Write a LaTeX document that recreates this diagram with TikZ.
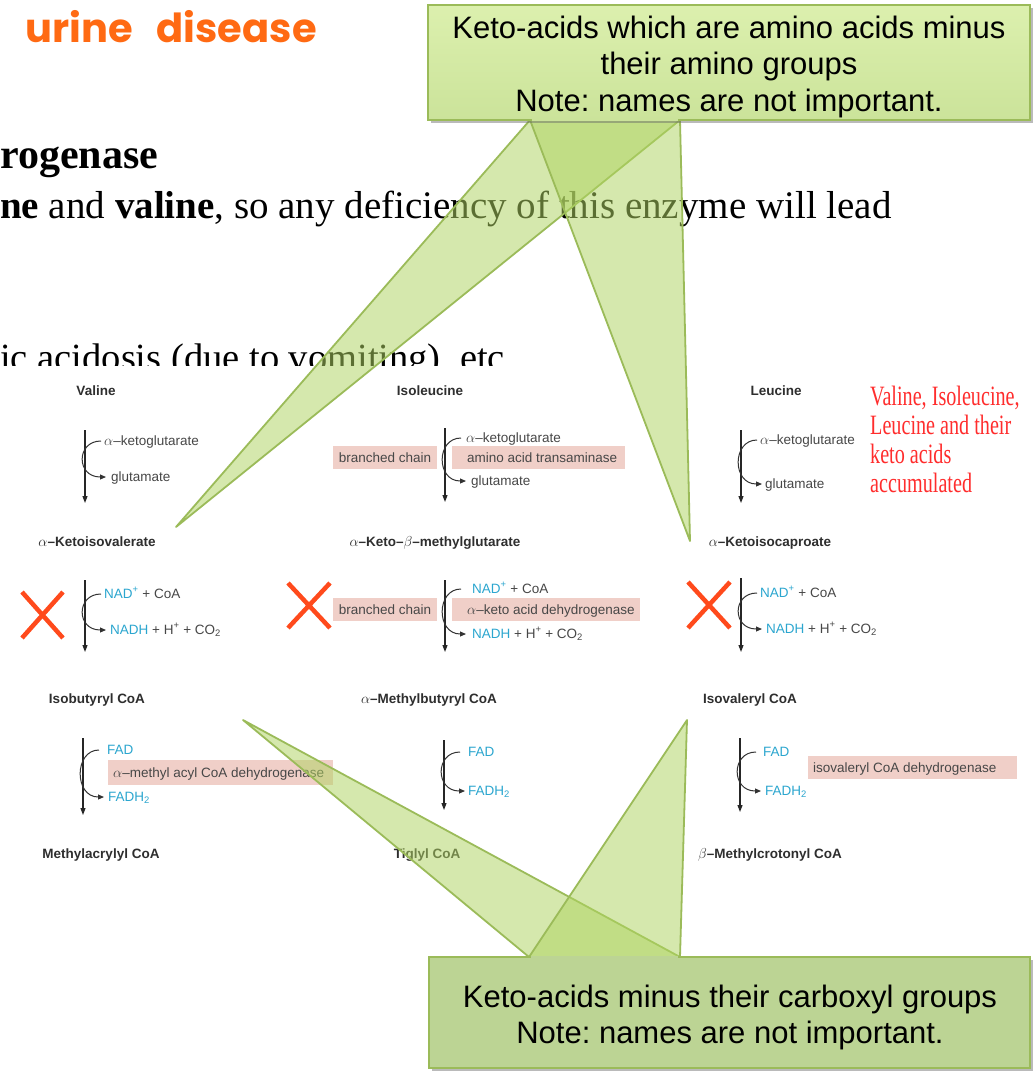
\documentclass[tikz,border=0pt]{standalone}
\usepackage{fontspec}
\usetikzlibrary{arrows.meta,shadows}
\frenchspacing
\newfontfamily\labfam{Liberation Sans}
\newfontfamily\bodyfam{Liberation Serif}
\newfontfamily\redfam[FakeStretch=0.72]{Liberation Serif}
\newfontfamily\titlefam{Poppins}
\definecolor{titleor}{HTML}{FF6A13}
\definecolor{xred}{HTML}{FF4A1C}
\definecolor{redtxt}{HTML}{FF2D2D}
\definecolor{nadblue}{HTML}{2BA6CF}
\definecolor{pinkc}{HTML}{F0CFC8}
\definecolor{gborder}{HTML}{9BBB59}
\definecolor{wedgec}{HTML}{B0D462}
\definecolor{tboxtop}{HTML}{DCF0AE}
\definecolor{tboxbot}{HTML}{CBE39A}
\definecolor{bboxc}{HTML}{BCD494}
\newcommand\rxnpair[6]{%
  \coordinate (#1t) at (#2,#3);
  \coordinate (#1b) at (#2,#4);
  \coordinate (#1s) at ({#2+16},#5);
  \coordinate (#1e) at ({#2+21},#6);
  \draw[rxline] (#1t) -- (#1b);
  \draw[arcline] (#1s) .. controls ({#2-9},#5) and ({#2-9},#6) .. (#1e);
}
\begin{document}
\begin{tikzpicture}[x=1pt,y=-1pt,
  lab/.style={font={\labfam\bfseries\fontsize{13.5}{15}\selectfont}, text=black!82, inner sep=0pt, anchor=base},
  sub/.style={font={\labfam\fontsize{13.5}{15}\selectfont}, text=black!72, inner sep=0pt, anchor=base west},
  pinkbox/.style={fill=pinkc},
  rxline/.style={draw=black!85, line width=1.1pt, -{Triangle[length=7pt,width=5pt]}},
  arcline/.style={draw=black!80, line width=1pt, -{Triangle[length=6pt,width=5pt]}},
  xmark/.style={draw=xred, line width=4.5pt},
  bodytext/.style={font={\bodyfam\fontsize{38.5}{45}\selectfont}, inner sep=0pt, anchor=base west},
  redtext/.style={font={\redfam\fontsize{28}{29}\selectfont}, text=redtxt, inner sep=0pt, anchor=base west},
  wedge/.style={fill=wedgec, fill opacity=0.52, draw=gborder, line width=1.8pt, line join=round},
  callbox/.style={draw=gborder, line width=1.8pt, drop shadow={shadow xshift=2.5pt, shadow yshift=-3pt, opacity=0.45, fill=black!60}},
  boxtext/.style={font={\labfam\fontsize{31}{36}\selectfont}, inner sep=0pt, anchor=base}
]
\useasboundingbox (0,0) rectangle (1034,1071);
\fill[white] (0,0) rectangle (1034,1071);

% slide text
\node[font={\titlefam\bfseries\fontsize{40}{46}\selectfont}, text=titleor, inner sep=0pt, anchor=base west] (title) at (25,42) {urine\hspace{0.6em}disease};
\node[bodytext, font={\bodyfam\fontsize{42}{48}\selectfont}] (l1) at (0,168) {\textbf{rogenase}};
\node[bodytext, font={\bodyfam\fontsize{39}{45}\selectfont}] (l2) at (0,218) {\textbf{ne} and \textbf{valine}, so any deficiency of this enzyme will lead};
\begin{scope}
  \clip (0,0) rectangle (1034,365);
  \node[bodytext] (l3) at (0,370) {ic acidosis (due to vomiting), etc};
\end{scope}

% pink enzyme boxes
\fill[pinkbox] (333,446) rectangle (437,469);
\fill[pinkbox] (452,446) rectangle (625,469);
\fill[pinkbox] (333,598) rectangle (437,621);
\fill[pinkbox] (452,598) rectangle (640,621);
\fill[pinkbox] (108,760) rectangle (333,785);
\fill[pinkbox] (808,756) rectangle (1017,779);
\node[sub, anchor=base] (bc1) at (385,462) {branched chain};
\node[sub] (aat) at (467,462) {amino acid transaminase};
\node[sub, anchor=base] (bc2) at (385,614) {branched chain};
\node[sub] (kad) at (467,614) {$\alpha$–keto acid dehydrogenase};
\node[sub] (mad) at (113,777) {$\alpha$–methyl acyl CoA dehydrogenase};
\node[sub] (ivd) at (813,772) {isovaleryl CoA dehydrogenase};

% compounds
\node[lab] (val) at (96,395) {Valine};
\node[lab] (ile) at (430,395) {Isoleucine};
\node[lab] (leu) at (776,395) {Leucine};
\node[lab] (kiv) at (97,546) {$\alpha$–Ketoisovalerate};
\node[lab] (kmg) at (435,546) {$\alpha$–Keto–$\beta$–methylglutarate};
\node[lab] (kic) at (770,546) {$\alpha$–Ketoisocaproate};
\node[lab] (ibc) at (97,703) {Isobutyryl CoA};
\node[lab] (mbc) at (429,703) {$\alpha$–Methylbutyryl CoA};
\node[lab] (ivc) at (750,703) {Isovaleryl CoA};
\node[lab] (mac) at (101,858) {Methylacrylyl CoA};
\node[lab] (tgc) at (427,858) {Tiglyl CoA};
\node[lab] (mcc) at (770,858) {$\beta$–Methylcrotonyl CoA};

% cofactors
\node[sub] (akg1) at (104,445) {$\alpha$–ketoglutarate};
\node[sub] (glu1) at (111,481) {glutamate};
\node[sub] (nad1) at (104,598) {\textcolor{nadblue}{NAD\textsuperscript{+}} + CoA};
\node[sub] (nadh1) at (110,634) {\textcolor{nadblue}{NADH} + H\textsuperscript{+} + CO\textsubscript{2}};
\node[sub] (fad1) at (107,754) {\textcolor{nadblue}{FAD}};
\node[sub] (fadh1) at (108,801) {\textcolor{nadblue}{FADH\textsubscript{2}}};
\node[sub] (akg2) at (466,442) {$\alpha$–ketoglutarate};
\node[sub] (glu2) at (471,485) {glutamate};
\node[sub] (nad2) at (472,593) {\textcolor{nadblue}{NAD\textsuperscript{+}} + CoA};
\node[sub] (nadh2) at (472,638) {\textcolor{nadblue}{NADH} + H\textsuperscript{+} + CO\textsubscript{2}};
\node[sub] (fad2) at (468,756) {\textcolor{nadblue}{FAD}};
\node[sub] (fadh2) at (468,795) {\textcolor{nadblue}{FADH\textsubscript{2}}};
\node[sub] (akg3) at (760,444) {$\alpha$–ketoglutarate};
\node[sub] (glu3) at (765,488) {glutamate};
\node[sub] (nad3) at (760,597) {\textcolor{nadblue}{NAD\textsuperscript{+}} + CoA};
\node[sub] (nadh3) at (766,633) {\textcolor{nadblue}{NADH} + H\textsuperscript{+} + CO\textsubscript{2}};
\node[sub] (fad3) at (763,756) {\textcolor{nadblue}{FAD}};
\node[sub] (fadh3) at (765,795) {\textcolor{nadblue}{FADH\textsubscript{2}}};

% reaction arrows
\rxnpair{ra}{85}{430}{503}{441}{477}
\rxnpair{rb}{85}{580}{652}{594}{630}
\rxnpair{rc}{83}{738}{815}{750}{797}
\rxnpair{rd}{445}{428}{502}{438}{481}
\rxnpair{re}{445}{580}{652}{589}{634}
\rxnpair{rf}{444}{740}{810}{752}{791}
\rxnpair{rg}{741}{430}{503}{440}{484}
\rxnpair{rh}{741}{578}{652}{593}{629}
\rxnpair{ri}{740}{738}{812}{752}{791}

% blocked steps
\draw[xmark] (22,592) -- (63,638) (63,592) -- (22,638);
\draw[xmark] (288,583) -- (330,628) (330,583) -- (288,628);
\draw[xmark] (688,582) -- (730,628) (730,582) -- (688,628);

% red note
\node[redtext] (r1) at (870,405) {Valine, Isoleucine,};
\node[redtext] (r2) at (870,434) {Leucine and their};
\node[redtext] (r3) at (870,463) {keto acids};
\node[redtext] (r4) at (870,492) {accumulated};

% top callout
\coordinate (tL) at (530,120);
\coordinate (tR) at (680,120);
\coordinate (tA) at (176,527);
\coordinate (tB) at (690,541);
\path[wedge] (tL) -- (tA) -- (tR);
\path[wedge] (tL) -- (tB) -- (tR);
\path[callbox, top color=tboxtop, bottom color=tboxbot] (428,5) rectangle (1030,120);
\draw[tboxbot, line width=2.4pt] ([xshift=1.6pt]tL) -- ([xshift=-1.6pt]tR);
\node[boxtext] (t1) at (729,38.5) {Keto-acids which are amino acids minus};
\node[boxtext] (t2) at (729,74.5) {their amino groups};
\node[boxtext] (t3) at (729,111) {Note: names are not important.};

% bottom callout
\coordinate (bL) at (529,957);
\coordinate (bR) at (680,957);
\coordinate (bC) at (243,720);
\coordinate (bD) at (687,720);
\path[wedge] (bL) -- (bC) -- (bR);
\path[wedge] (bL) -- (bD) -- (bR);
\path[callbox, fill=bboxc] (429,957) rectangle (1030,1068);
\draw[bboxc, line width=2.4pt] ([xshift=1.6pt]bL) -- ([xshift=-1.6pt]bR);
\node[boxtext] (b1) at (730,1007) {Keto-acids minus their carboxyl groups};
\node[boxtext] (b2) at (730,1043) {Note: names are not important.};
\end{tikzpicture}
\end{document}
